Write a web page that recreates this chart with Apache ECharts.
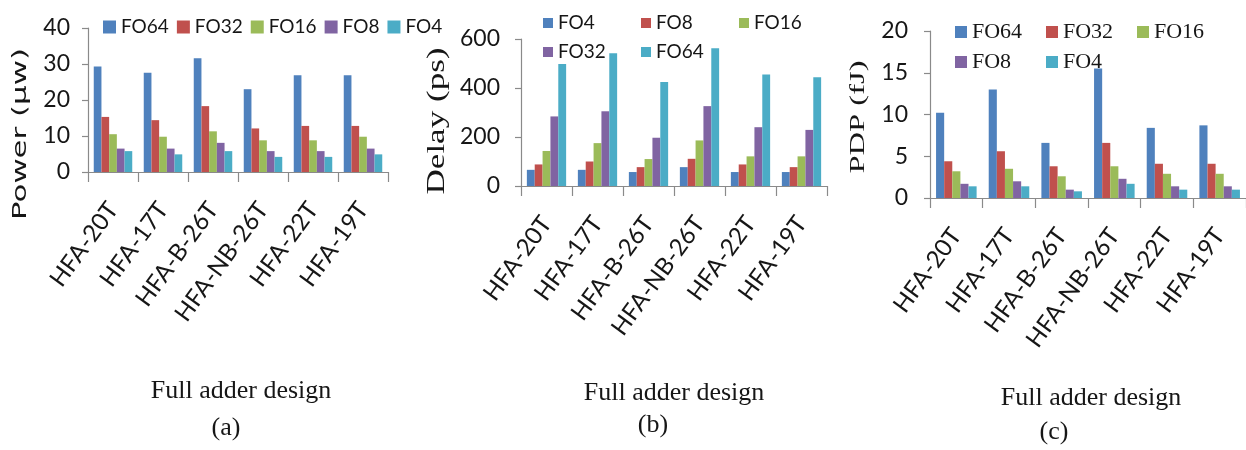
<!DOCTYPE html>
<html>
<head>
<meta charset="utf-8">
<script src="https://cdn.jsdelivr.net/npm/echarts@6/dist/echarts.min.js"></script>
<style>
html,body{margin:0;padding:0;background:#fff;}
#chart{width:1246px;height:450px;}
</style>
</head>
<body>
<div id="chart"></div>
<script>
// ---------- data ----------
const categories = ['HFA-20T', 'HFA-17T', 'HFA-B-26T', 'HFA-NB-26T', 'HFA-22T', 'HFA-19T'];

// (a) Power (µw)
const powerFO64 = [29.3, 27.6, 31.6, 23.0, 26.9, 26.9];
const powerFO32 = [15.3, 14.4, 18.3, 12.1, 12.8, 12.8];
const powerFO16 = [10.5, 9.8, 11.3, 8.8, 8.8, 9.8];
const powerFO8  = [6.5, 6.5, 8.1, 5.8, 5.8, 6.5];
const powerFO4  = [5.8, 4.9, 5.8, 4.2, 4.2, 4.9];

// (b) Delay (ps)
const delayFO4  = [66, 66, 57, 77, 57, 57];
const delayFO8  = [88, 100, 77, 111, 88, 77];
const delayFO16 = [143, 175, 110, 186, 121, 121];
const delayFO32 = [284, 305, 197, 326, 240, 229];
const delayFO64 = [498, 542, 424, 562, 455, 444];

// (c) PDP (fJ)
const pdpFO64 = [10.2, 13.0, 6.6, 15.5, 8.4, 8.7];
const pdpFO32 = [4.4, 5.6, 3.8, 6.6, 4.1, 4.1];
const pdpFO16 = [3.2, 3.5, 2.6, 3.8, 2.9, 2.9];
const pdpFO8  = [1.7, 2.0, 1.0, 2.3, 1.4, 1.4];
const pdpFO4  = [1.4, 1.4, 0.8, 1.7, 1.0, 1.0];

// axis ranges / ticks
const powerTicks = {min: 0, max: 40, interval: 10};
const delayTicks = {min: 0, max: 600, interval: 200};
const pdpTicks   = {min: 0, max: 20, interval: 5};

// ---------- styling ----------
const palette = ['#4F81BD', '#C0504D', '#9BBB59', '#8064A2', '#4BACC6'];
const sans = 'Lato, "Liberation Sans", sans-serif';
const serif = '"Liberation Serif", "DejaVu Serif", serif';
const axisGray = '#8a8a8a';
const textCol = '#161616';

const grids = [
  {left: 88, top: 28, width: 300, height: 144},
  {left: 521, top: 39, width: 306, height: 147},
  {left: 930, top: 31, width: 316, height: 167}
];

function xAxisFor(i) {
  return {
    type: 'category', gridIndex: i, data: categories,
    axisLine: {lineStyle: {color: axisGray, width: 1.2}},
    axisTick: {show: true, length: 10, lineStyle: {color: axisGray, width: 1.2}},
    axisLabel: {rotate: 54, margin: 33, fontFamily: sans, fontSize: 24, color: textCol, interval: 0}
  };
}
function yAxisFor(i, t, m) {
  return {
    type: 'value', gridIndex: i, min: t.min, max: t.max, interval: t.interval,
    splitLine: {show: false},
    axisLine: {show: true, lineStyle: {color: axisGray, width: 1.2}},
    axisTick: {show: true, length: 6, lineStyle: {color: axisGray, width: 1.2}},
    axisLabel: {margin: m, fontFamily: sans, fontSize: 23, color: textCol}
  };
}
function bar(name, data, idx, color) {
  return {
    name: name, type: 'bar', xAxisIndex: idx, yAxisIndex: idx, data: data,
    barGap: '0%', barCategoryGap: '23%',
    itemStyle: {color: color}, emphasis: {disabled: true}
  };
}

const series = [
  bar('FO64', powerFO64, 0, palette[0]),
  bar('FO32', powerFO32, 0, palette[1]),
  bar('FO16', powerFO16, 0, palette[2]),
  bar('FO8',  powerFO8,  0, palette[3]),
  bar('FO4',  powerFO4,  0, palette[4]),

  bar('FO4 ',  delayFO4,  1, palette[0]),
  bar('FO8 ',  delayFO8,  1, palette[1]),
  bar('FO16 ', delayFO16, 1, palette[2]),
  bar('FO32 ', delayFO32, 1, palette[3]),
  bar('FO64 ', delayFO64, 1, palette[4]),

  bar('FO64  ', pdpFO64, 2, palette[0]),
  bar('FO32  ', pdpFO32, 2, palette[1]),
  bar('FO16  ', pdpFO16, 2, palette[2]),
  bar('FO8  ',  pdpFO8,  2, palette[3]),
  bar('FO4  ',  pdpFO4,  2, palette[4])
];

const trimFmt = function (n) { return n.trim(); };

const legends = [
  {data: ['FO64', 'FO32', 'FO16', 'FO8', 'FO4'], left: 98, top: 12, itemWidth: 13, itemHeight: 13, itemGap: 8,
   icon: 'rect', selectedMode: false, formatter: trimFmt,
   textStyle: {fontFamily: sans, fontSize: 19, color: textCol, lineHeight: 20}},
  {data: ['FO4 ', 'FO8 ', 'FO16 '], left: 538, top: 8, itemWidth: 10, itemHeight: 10, itemGap: 5,
   icon: 'rect', selectedMode: false, formatter: trimFmt,
   textStyle: {fontFamily: sans, fontSize: 19, color: textCol, lineHeight: 20, width: 78}},
  {data: ['FO32 ', 'FO64 '], left: 538, top: 37, itemWidth: 10, itemHeight: 10, itemGap: 5,
   icon: 'rect', selectedMode: false, formatter: trimFmt,
   textStyle: {fontFamily: sans, fontSize: 19, color: textCol, lineHeight: 20, width: 78}},
  {data: ['FO64  ', 'FO32  ', 'FO16  '], left: 950, top: 16, itemWidth: 12, itemHeight: 12, itemGap: 12,
   icon: 'rect', selectedMode: false, formatter: trimFmt,
   textStyle: {fontFamily: serif, fontSize: 22, color: textCol, lineHeight: 22, width: 62}},
  {data: ['FO8  ', 'FO4  '], left: 950, top: 46, itemWidth: 12, itemHeight: 12, itemGap: 12,
   icon: 'rect', selectedMode: false, formatter: trimFmt,
   textStyle: {fontFamily: serif, fontSize: 22, color: textCol, lineHeight: 22, width: 62}}
];

// rotated axis titles, stretched along their length to match the reference
const measureCtx = document.createElement('canvas').getContext('2d');
function vTitle(text, x, y, font, targetLen) {
  measureCtx.font = font;
  const w = measureCtx.measureText(text).width || 1;
  return {
    type: 'text', x: x, y: y, rotation: Math.PI / 2, scaleX: targetLen / w,
    style: {text: text, font: font, fill: textCol, align: 'center', verticalAlign: 'middle'},
    silent: true
  };
}
function hText(text, x, y) {
  return {
    type: 'text', x: x, y: y,
    style: {text: text, font: '26px ' + serif, fill: textCol, align: 'center', verticalAlign: 'middle'},
    silent: true
  };
}

const graphic = [
  vTitle('Power (µw)', 21, 134, '19px "DejaVu Sans", sans-serif', 172),
  vTitle('Delay (ps)', 437, 121, '25px ' + serif, 147),
  vTitle('PDP (fJ)', 858, 117, '22px ' + serif, 113),
  hText('Full adder design', 241, 391),
  hText('(a)', 226, 428),
  hText('Full adder design', 674, 393),
  hText('(b)', 653, 425),
  hText('Full adder design', 1091, 398),
  hText('(c)', 1054, 432)
];

const chart = echarts.init(document.getElementById('chart'), null, {renderer: 'canvas'});
chart.setOption({
  backgroundColor: '#ffffff',
  animation: false,
  grid: grids,
  xAxis: [xAxisFor(0), xAxisFor(1), xAxisFor(2)],
  yAxis: [yAxisFor(0, powerTicks, 18), yAxisFor(1, delayTicks, 21), yAxisFor(2, pdpTicks, 22)],
  legend: legends,
  series: series,
  graphic: graphic
});
</script>
</body>
</html>
